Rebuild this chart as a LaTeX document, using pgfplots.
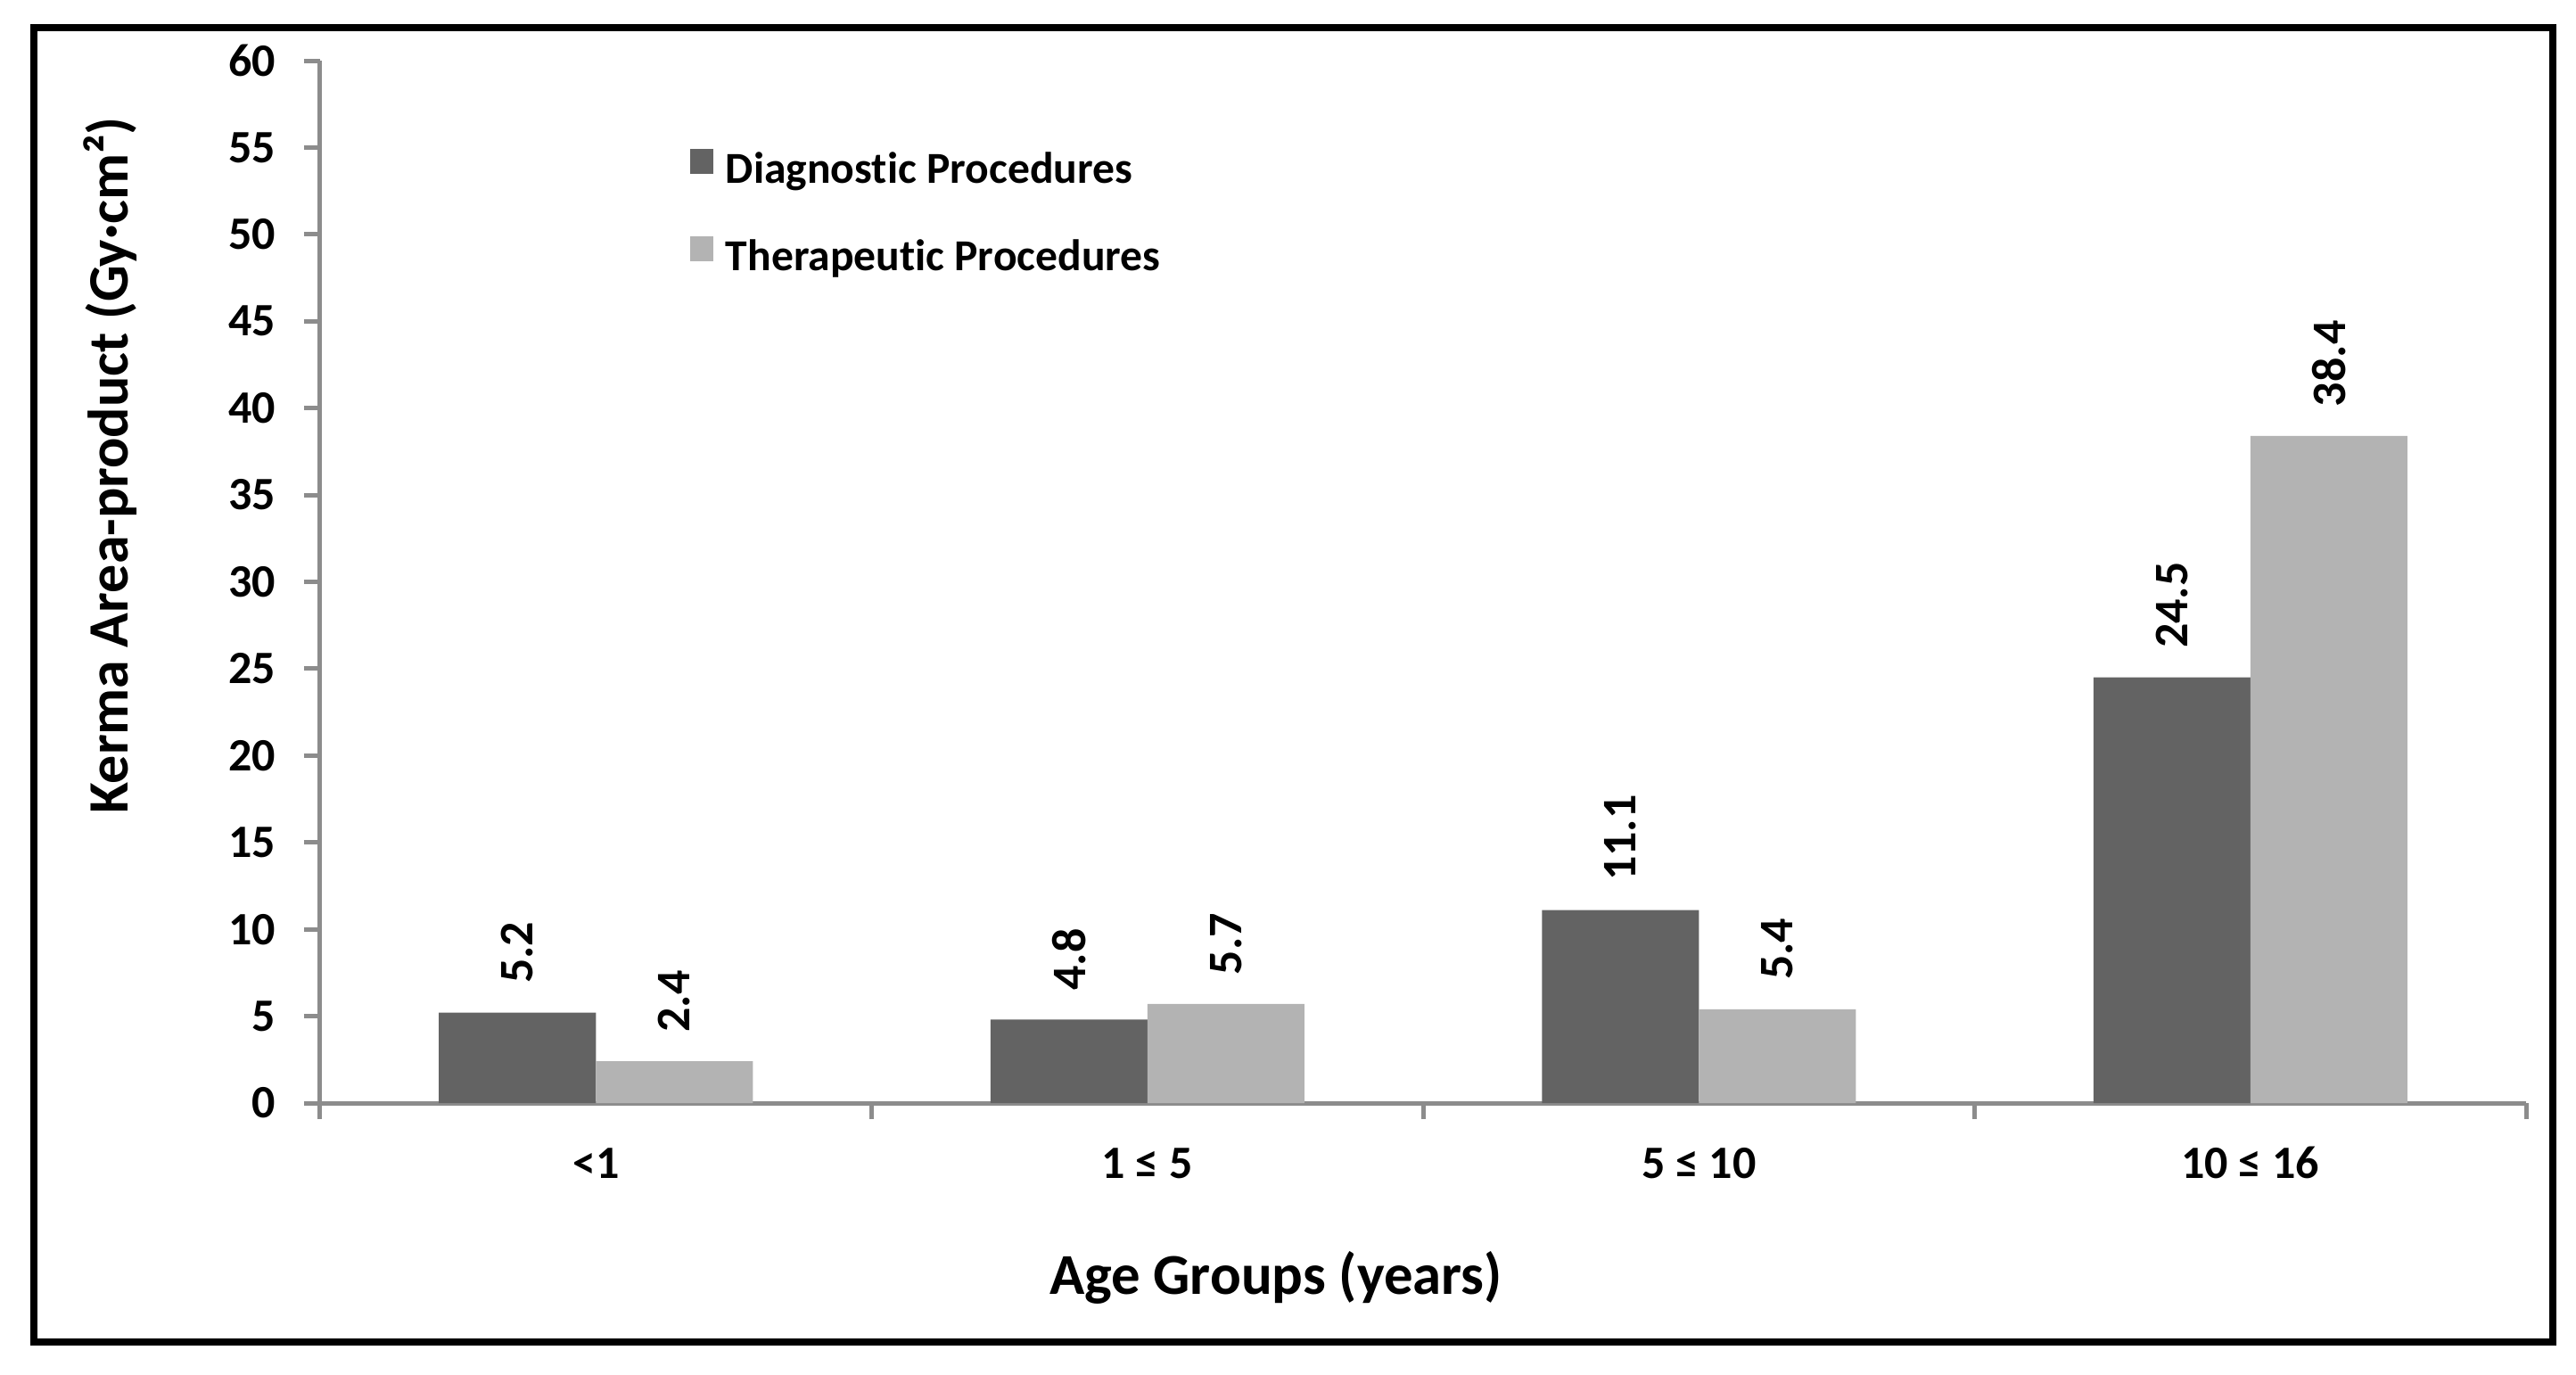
\documentclass[border=0pt]{standalone}
\usepackage{fontspec}
\setmainfont{Carlito}[Ligatures={NoCommon}]
\usepackage{pgfplots}
\pgfplotsset{compat=1.18}
\definecolor{darkbar}{HTML}{636363}
\definecolor{lightbar}{HTML}{B3B3B3}
\definecolor{axisgray}{HTML}{8C8C8C}
\begin{document}
\begin{tikzpicture}
\path[use as bounding box] (-89.75pt,-76pt) rectangle (632.5pt,309.25pt);
\begin{axis}[
  at={(0pt,0pt)}, anchor=south west,
  scale only axis, width=618.5pt, height=292.25pt,
  ybar=0pt, bar width=44pt,
  xmin=-0.5, xmax=3.5, ymin=0, ymax=60,
  axis x line=bottom, axis y line=left,
  axis line style={-, draw=axisgray, line width=1.25pt},
  tick style={draw=axisgray, line width=1.25pt},
  tick align=outside, major tick length=4.5pt,
  xtick={-0.5,0.5,1.5,2.5,3.5},
  x tick label as interval,
  xticklabels={<1, 1 ≤ 5, 5 ≤ 10, 10 ≤ 16},
  ytick={0,5,...,60},
  /pgf/number format/assume math mode=true,
  ticklabel style={font=\fontsize{13pt}{15pt}\selectfont\bfseries},
  xticklabel style={anchor=base, inner sep=0pt, yshift=-16.5pt},
  yticklabel style={anchor=east, inner sep=0pt, xshift=-7.75pt},
  xlabel={Age Groups (years)},
  xlabel style={at={(axis description cs:0.4333,-0.1839)}, anchor=base, font=\fontsize{16.2pt}{19pt}\selectfont\bfseries},
  ylabel={Kerma Area-product (Gy·cm²)},
  ylabel style={at={(axis description cs:-0.0873,0.6116)}, anchor=base, font=\fontsize{16pt}{19pt}\selectfont\bfseries},
  legend style={at={(axis description cs:0.1677,0.9153)}, anchor=north west, draw=none, fill=none, inner sep=0pt, outer sep=0pt, row sep=12pt, column sep=3.5pt, font=\fontsize{12.4pt}{14pt}\selectfont\bfseries, nodes={inner sep=0pt, text height=9pt, text depth=3pt}},
  legend cell align=left,
  legend image code/.code={\fill[#1] (0pt,-0.5pt) rectangle (6.5pt,6.5pt);},
  nodes near coords={\pgfmathprintnumber[fixed,precision=1,fixed zerofill]{\pgfplotspointmeta}},
  nodes near coords style={rotate=90, anchor=west, inner xsep=8pt, inner ysep=0pt, font=\fontsize{13.5pt}{16pt}\selectfont\bfseries, text=black},
]
\addplot[fill=darkbar, draw=none] coordinates {(0,5.2) (1,4.8) (2,11.1) (3,24.5)};
\addplot[fill=lightbar, draw=none] coordinates {(0,2.4) (1,5.7) (2,5.4) (3,38.4)};
\legend{Diagnostic Procedures, Therapeutic Procedures}
\end{axis}
\draw[black, line width=2.1pt] (-80.25pt,-67pt) rectangle (626pt,301.5pt);
\end{tikzpicture}
\end{document}
